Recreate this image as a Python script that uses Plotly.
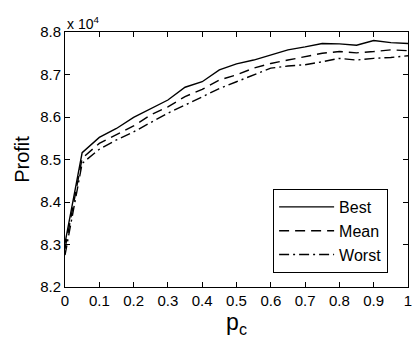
import plotly.graph_objects as go

pc = [0, 0.05, 0.1, 0.15, 0.2, 0.25, 0.3, 0.35, 0.4, 0.45, 0.5,
      0.55, 0.6, 0.65, 0.7, 0.75, 0.8, 0.85, 0.9, 0.95, 1.0]
best = [8.303, 8.516, 8.552, 8.573, 8.599, 8.620, 8.640, 8.670, 8.683, 8.711, 8.725,
        8.734, 8.746, 8.758, 8.765, 8.773, 8.772, 8.769, 8.780, 8.775, 8.773]
mean = [8.290, 8.503, 8.538, 8.558, 8.579, 8.605, 8.624, 8.648, 8.665, 8.687, 8.699,
        8.715, 8.726, 8.734, 8.742, 8.750, 8.754, 8.751, 8.754, 8.758, 8.756]
worst = [8.275, 8.491, 8.524, 8.546, 8.565, 8.587, 8.609, 8.628, 8.648, 8.667, 8.683,
         8.699, 8.715, 8.720, 8.723, 8.730, 8.738, 8.734, 8.738, 8.740, 8.744]
xticks = [0, 0.1, 0.2, 0.3, 0.4, 0.5, 0.6, 0.7, 0.8, 0.9, 1]
xticklabels = ["0", "0.1", "0.2", "0.3", "0.4", "0.5", "0.6", "0.7", "0.8", "0.9", "1"]
yticks = [8.2, 8.3, 8.4, 8.5, 8.6, 8.7, 8.8]
yticklabels = ["8.2", "8.3", "8.4", "8.5", "8.6", "8.7", "8.8"]

FONT = "Liberation Sans, Arial, sans-serif"

fig = go.Figure()
fig.add_trace(go.Scatter(x=pc, y=best, mode="lines", name="Best",
                         line=dict(color="black", width=1.4, dash="solid")))
fig.add_trace(go.Scatter(x=pc, y=mean, mode="lines", name="Mean",
                         line=dict(color="black", width=1.4, dash="10px,6px")))
fig.add_trace(go.Scatter(x=pc, y=worst, mode="lines", name="Worst",
                         line=dict(color="black", width=1.4, dash="10px,4px,2px,4px")))

axis_common = dict(showgrid=False, zeroline=False, showline=True, linecolor="black",
                   linewidth=1, mirror="ticks", ticks="inside", ticklen=5,
                   tickcolor="black", tickwidth=1,
                   tickfont=dict(family=FONT, size=15, color="black"))

fig.update_xaxes(range=[0, 1], tickvals=xticks, ticktext=xticklabels,
                 ticklabeloverflow="allow",
                 title=dict(text="p<sub>c</sub>", font=dict(family=FONT, size=23, color="black"),
                            standoff=2),
                 **axis_common)
fig.update_yaxes(range=[8.2, 8.8], tickvals=yticks, ticktext=yticklabels,
                 title=dict(text="Profit", font=dict(family=FONT, size=20, color="black"),
                            standoff=5),
                 **axis_common)

fig.add_annotation(text="x 10<sup>4</sup>", xref="paper", yref="paper", x=0, y=1,
                   xanchor="left", yanchor="bottom", showarrow=False, yshift=-2,
                   font=dict(family=FONT, size=14, color="black"))

fig.update_layout(
    width=415, height=342,
    margin=dict(l=65, r=3, t=32, b=55),
    paper_bgcolor="white", plot_bgcolor="white",
    showlegend=True,
    legend=dict(x=0.942, y=0.055, xanchor="right", yanchor="bottom",
                bordercolor="black", borderwidth=1, bgcolor="white",
                font=dict(family=FONT, size=16, color="black"),
                tracegroupgap=0, itemwidth=55),
)

fig.write_html("out.html")
